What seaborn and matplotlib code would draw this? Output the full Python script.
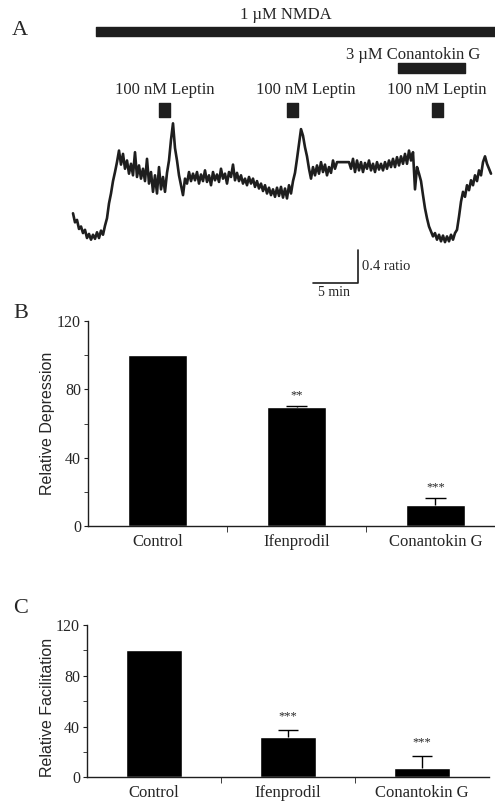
import numpy as np
import pandas as pd
import matplotlib
matplotlib.use("Agg")
import matplotlib.pyplot as plt
import seaborn as sns

# panel A: fura ratio trace, one sample every 2/9 min
dt = 2 / 9  # min
ratio = [1.16, 1.05, 1.08, 0.97, 1.00, 0.92, 0.96, 0.86, 0.91, 0.84,
         0.90, 0.85, 0.93, 0.86, 0.95, 0.90, 1.01, 1.10, 1.28, 1.40,
         1.55, 1.66, 1.78, 1.92, 1.75, 1.88, 1.70, 1.80, 1.64, 1.76,
         1.62, 1.90, 1.60, 1.74, 1.58, 1.70, 1.55, 1.82, 1.52, 1.66,
         1.42, 1.62, 1.40, 1.72, 1.45, 1.60, 1.42, 1.65, 1.80, 2.05,
         2.25, 1.95, 1.80, 1.62, 1.50, 1.38, 1.58, 1.52, 1.66, 1.55,
         1.64, 1.56, 1.66, 1.52, 1.63, 1.55, 1.68, 1.54, 1.62, 1.50,
         1.66, 1.56, 1.63, 1.54, 1.70, 1.58, 1.64, 1.52, 1.66, 1.60,
         1.75, 1.56, 1.65, 1.55, 1.62, 1.52, 1.58, 1.50, 1.60, 1.52,
         1.58, 1.48, 1.55, 1.46, 1.52, 1.43, 1.50, 1.40, 1.47, 1.38,
         1.45, 1.36, 1.47, 1.37, 1.48, 1.35, 1.46, 1.34, 1.50, 1.40,
         1.55, 1.65, 1.82, 2.00, 2.18, 2.10, 1.96, 1.85, 1.70, 1.58,
         1.72, 1.62, 1.74, 1.64, 1.78, 1.66, 1.75, 1.62, 1.72, 1.65,
         1.80, 1.70, 1.78, 1.78, 1.78, 1.78, 1.78, 1.78, 1.78, 1.70,
         1.82, 1.66, 1.80, 1.68, 1.78, 1.66, 1.77, 1.70, 1.80, 1.68,
         1.76, 1.66, 1.78, 1.69, 1.76, 1.68, 1.78, 1.70, 1.80, 1.72,
         1.82, 1.72, 1.84, 1.74, 1.85, 1.76, 1.88, 1.76, 1.92, 1.80,
         1.90, 1.45, 1.72, 1.64, 1.55, 1.38, 1.22, 1.10, 1.00, 0.94,
         0.88, 0.92, 0.84, 0.90, 0.82, 0.89, 0.81, 0.88, 0.82, 0.90,
         0.84, 0.92, 0.96, 1.12, 1.30, 1.42, 1.36, 1.50, 1.44, 1.56,
         1.50, 1.62, 1.55, 1.68, 1.62, 1.78, 1.85, 1.76, 1.70, 1.64]
time = np.arange(len(ratio)) * dt

nmda_on = 2.56
conantokin_on, conantokin_off = 36.1, 43.6
leptin_on = [9.56, 23.8, 39.9]
leptin_dur = 1.2

# panels B and C
groups = ["Control", "Ifenprodil", "Conantokin G"]
depression = [100, 69.5, 12.5]
depression_err = [0, 0.9, 3.7]
depression_sig = ["", "**", "***"]
facilitation = [100, 31.8, 7.6]
facilitation_err = [0, 5.5, 9.2]
facilitation_sig = ["", "***", "***"]

sns.set_style("white")
plt.rcParams["font.family"] = ["Liberation Serif", "DejaVu Serif"]
ink = "#1e1e1e"

fig = plt.figure(figsize=(4.95, 8.02), dpi=100)

# ---- A ----
ax_a = fig.add_axes([0, 502 / 802, 1, 300 / 802])
sns.lineplot(x=time, y=ratio, ax=ax_a, color=ink, linewidth=1.9,
             estimator=None, sort=False)
ax_a.set_xlim(-73 / 9, 422 / 9)
ax_a.set_ylim(0.109, 3.745)
ax_a.axis("off")

ax_a.broken_barh([(nmda_on, 50)], (3.309, 0.109), color=ink)
ax_a.broken_barh([(conantokin_on, conantokin_off - conantokin_on)], (2.86, 0.12), color=ink)
ax_a.broken_barh([(t, leptin_dur) for t in leptin_on], (2.327, 0.17), color=ink)

ax_a.text(23.6, 3.563, "1 µM NMDA", ha="center", va="center", fontsize=12)
ax_a.text(37.8, 3.079, "3 µM Conantokin G", ha="center", va="center", fontsize=12)
for xt in [10.2, 25.9, 40.4]:
    ax_a.text(xt, 2.654, "100 nM Leptin", ha="center", va="center", fontsize=12)

# scale bar
ax_a.plot([26.67, 31.67, 31.67], [0.315, 0.315, 0.715], color=ink, lw=1.2)
ax_a.text(32.1, 0.52, "0.4 ratio", ha="left", va="center", fontsize=10.5)
ax_a.text(29.0, 0.2, "5 min", ha="center", va="center", fontsize=10)


def bar_panel(ax, values, errs, sigs, ylabel, star_off, label_x, label_y):
    df = pd.DataFrame({"group": groups, "value": values})
    sns.barplot(data=df, x="group", y="value", ax=ax, color="black",
                width=0.42, errorbar=None, saturation=1)
    for i in range(3):
        if errs[i] > 0:
            top = values[i] + errs[i]
            ax.vlines(i, values[i], top, color="black", lw=1)
            ax.hlines(top, i - 0.075, i + 0.075, color="black", lw=1)
    for i, s in enumerate(sigs):
        if s:
            ax.annotate(s, (i, values[i] + errs[i]), xytext=(0, star_off),
                        textcoords="offset points", ha="center", va="center",
                        fontsize=9)
    ax.set_xlim(-0.5, 2.5)
    ax.set_ylim(0, 120)
    ax.set_yticks([0, 40, 80, 120])
    ax.set_yticks([20, 60, 100], minor=True)
    ax.set_xticks([0, 1, 2])
    ax.set_xticklabels(groups)
    ax.set_xticks([0.5, 1.5], minor=True)
    ax.tick_params(axis="x", which="major", length=0, pad=5.5, labelsize=12)
    ax.tick_params(axis="x", which="minor", length=4, direction="out", bottom=True, color=ink)
    ax.tick_params(axis="y", which="both", length=3, direction="out", left=True,
                   pad=2, labelsize=11.5, color=ink)
    sns.despine(ax=ax)
    for sp in ["left", "bottom"]:
        ax.spines[sp].set_color(ink)
        ax.spines[sp].set_linewidth(1)
    ax.set_xlabel("")
    ax.set_ylabel(ylabel, fontsize=11.5, family="Liberation Sans")
    ax.yaxis.set_label_coords(label_x, label_y)


ax_b = fig.add_axes([88 / 495, 276 / 802, 417 / 495, 205 / 802])
bar_panel(ax_b, depression, depression_err, depression_sig,
          "Relative Depression", 7.6, -0.079, 0.5)

ax_c = fig.add_axes([87 / 495, 24.7 / 802, 402 / 495, 152.3 / 802])
bar_panel(ax_c, facilitation, facilitation_err, facilitation_sig,
          "Relative Facilitation", 9.7, -0.08, 0.46)

fig.text(12 / 495, 1 - 35 / 802, "A", fontsize=16, va="baseline")
fig.text(13 / 495, 1 - 318 / 802, "B", fontsize=16, va="baseline")
fig.text(13 / 495, 1 - 613 / 802, "C", fontsize=16, va="baseline")

fig.savefig("out.png", dpi=100)
